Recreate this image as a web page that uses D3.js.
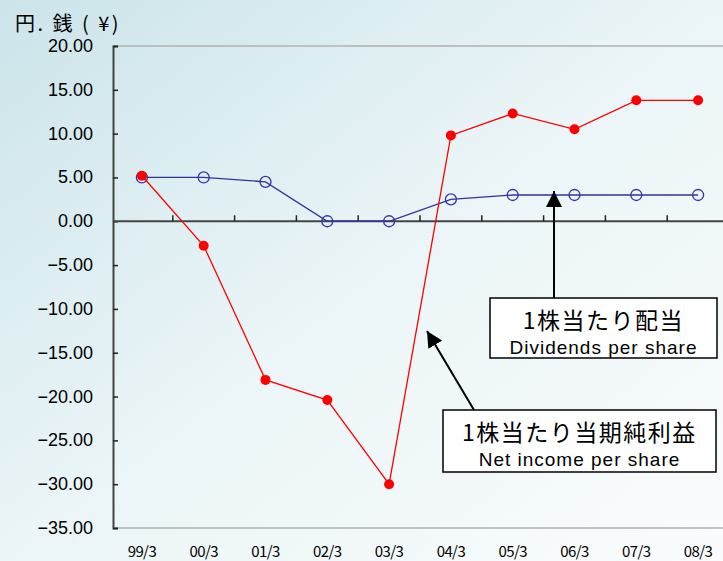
<!doctype html>
<html>
<head>
<meta charset="utf-8">
<style>
  body { margin: 0; }
  svg text { fill: #000; }
  .ylab { font: 18px "Liberation Sans Narrow", "Liberation Sans", Arial, sans-serif; text-anchor: end; }
  .xlab { font: 15px "Noto Sans CJK JP", sans-serif; text-anchor: middle; letter-spacing: -0.6px; }
</style>
<script src="https://d3js.org/d3.v7.min.js"></script>
</head>
<body>
<script>
var categories = ["99/3", "00/3", "01/3", "02/3", "03/3", "04/3", "05/3", "06/3", "07/3", "08/3"];
var netIncome = [5.2, -2.8, -18.1, -20.4, -30.0, 9.8, 12.3, 10.5, 13.8, 13.8];
var dividends = [5.0, 5.0, 4.5, 0, 0, 2.5, 3.0, 3.0, 3.0, 3.0];
var yTicks = [20, 15, 10, 5, 0, -5, -10, -15, -20, -25, -30, -35];

var width = 723, height = 561;
var plotLeft = 113, plotTop = 46, plotBottom = 528;

var svg = d3.select("body").append("svg")
    .attr("width", width)
    .attr("height", height);

// background gradient
var defs = svg.append("defs");
var grad = defs.append("linearGradient")
    .attr("id", "bg")
    .attr("x1", "0").attr("y1", "0").attr("x2", "1").attr("y2", "1");
grad.append("stop").attr("offset", "0%").attr("stop-color", "#cbe4ea");
grad.append("stop").attr("offset", "50%").attr("stop-color", "#ebf5f7");
grad.append("stop").attr("offset", "100%").attr("stop-color", "#fafcfd");
svg.append("rect").attr("width", width).attr("height", height).attr("fill", "url(#bg)");

var x = d3.scaleBand().domain(categories).range([111, 729]);
var y = d3.scaleLinear().domain([-35, 20]).range([plotBottom, plotTop]);

// frame lines top / bottom
svg.append("line").attr("x1", plotLeft).attr("x2", width).attr("y1", plotTop).attr("y2", plotTop)
    .attr("stroke", "#b0b0b0").attr("stroke-width", 1.5);
svg.append("line").attr("x1", plotLeft).attr("x2", width).attr("y1", plotBottom).attr("y2", plotBottom)
    .attr("stroke", "#b0b0b0").attr("stroke-width", 1.5);

// y axis
var yAxis = d3.axisRight(y).tickValues(yTicks).tickSize(5).tickFormat("");
var ya = svg.append("g").attr("transform", "translate(" + plotLeft + ",0)").call(yAxis);
ya.select(".domain").attr("stroke", "#444").attr("stroke-width", 2);
ya.selectAll(".tick line").attr("stroke", "#222").attr("stroke-width", 1.5);

svg.selectAll(".ylab").data(yTicks).enter().append("text")
    .attr("class", "ylab")
    .attr("x", 93)
    .attr("y", function (d) { return y(d) + 6; })
    .text(function (d) { return d3.format(".2f")(d).replace("-", "\u2212"); });

// zero axis with category ticks
var xa = svg.append("g").attr("transform", "translate(0," + y(0) + ")");
xa.append("line").attr("x1", plotLeft).attr("x2", width).attr("y1", 0).attr("y2", 0)
    .attr("stroke", "#444").attr("stroke-width", 2);
xa.selectAll(".bt").data(categories.slice(1)).enter().append("line")
    .attr("x1", function (d) { return x(d); })
    .attr("x2", function (d) { return x(d); })
    .attr("y1", 0).attr("y2", -6)
    .attr("stroke", "#222").attr("stroke-width", 1.5);

svg.selectAll(".xlab").data(categories).enter().append("text")
    .attr("class", "xlab")
    .attr("x", function (d) { return x(d) + x.bandwidth() / 2; })
    .attr("y", 557)
    .text(function (d) { return d; });

var cx = function (d, i) { return x(categories[i]) + x.bandwidth() / 2; };

// dividends line
var line = d3.line().x(cx).y(function (d) { return y(d); });
svg.append("path").datum(dividends).attr("d", line)
    .attr("fill", "none").attr("stroke", "#333399").attr("stroke-width", 1.3);
svg.selectAll(".dv").data(dividends).enter().append("circle")
    .attr("cx", cx).attr("cy", function (d) { return y(d); })
    .attr("r", 5.5).attr("fill", "none").attr("stroke", "#3333aa").attr("stroke-width", 1.3);

// net income line
svg.append("path").datum(netIncome).attr("d", line)
    .attr("fill", "none").attr("stroke", "#ff0000").attr("stroke-width", 1.3);
svg.selectAll(".ni").data(netIncome).enter().append("circle")
    .attr("cx", cx).attr("cy", function (d) { return y(d); })
    .attr("r", 5).attr("fill", "#ff0000");

// unit label
svg.append("text").attr("x", 15).attr("y", 31)
    .style("font", "20px 'Noto Sans CJK JP', sans-serif")
    .style("letter-spacing", "2.5px")
    .text("円. 銭 ( ¥)");

// arrows
defs.append("marker").attr("id", "ah").attr("viewBox", "0 0 10 10")
    .attr("refX", 10).attr("refY", 5).attr("markerWidth", 16).attr("markerHeight", 16)
    .attr("markerUnits", "userSpaceOnUse").attr("orient", "auto")
    .append("path").attr("d", "M0,0L10,5L0,10z").attr("fill", "#000");

svg.append("line").attr("x1", 554).attr("y1", 298).attr("x2", 554).attr("y2", 191)
    .attr("stroke", "#000").attr("stroke-width", 2).attr("marker-end", "url(#ah)");
svg.append("line").attr("x1", 474).attr("y1", 410).attr("x2", 427).attr("y2", 331)
    .attr("stroke", "#000").attr("stroke-width", 2).attr("marker-end", "url(#ah)");

// annotation boxes
function note(x0, y0, w, h, jp, en) {
  var g = svg.append("g");
  g.append("rect").attr("x", x0).attr("y", y0).attr("width", w).attr("height", h)
      .attr("fill", "#ffffff").attr("stroke", "#000").attr("stroke-width", 1.5);
  g.append("text").attr("x", x0 + w / 2).attr("y", y0 + 31)
      .attr("text-anchor", "middle")
      .style("font", "23px 'Noto Sans CJK JP', sans-serif")
      .style("letter-spacing", "1.5px").text(jp);
  g.append("text").attr("x", x0 + w / 2).attr("y", y0 + 56)
      .attr("text-anchor", "middle")
      .style("font", "19px 'Liberation Sans', Arial, sans-serif")
      .style("letter-spacing", "1px").text(en);
}
note(490, 298, 227, 60, "1株当たり配当", "Dividends per share");
note(443, 410, 273, 62, "1株当たり当期純利益", "Net income per share");
</script>
</body>
</html>
